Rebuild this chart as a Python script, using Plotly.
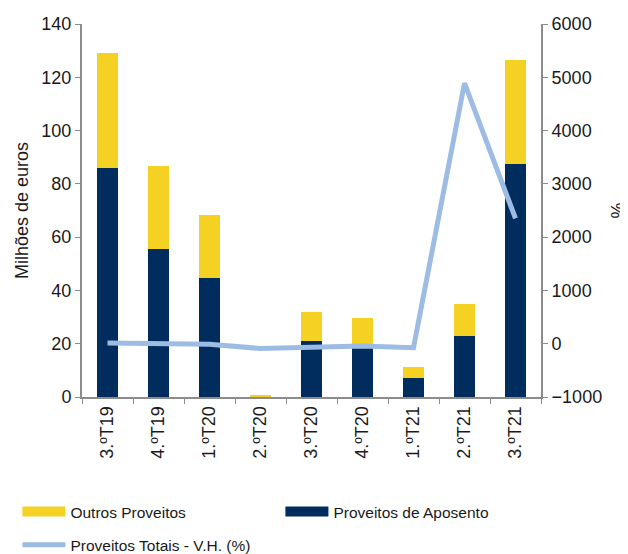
import plotly.graph_objects as go

trimestres = ["3.ºT19", "4.ºT19", "1.ºT20", "2.ºT20", "3.ºT20", "4.ºT20", "1.ºT21", "2.ºT21", "3.ºT21"]
proveitos_aposento = [86.0, 55.6, 44.5, 0.0, 21.0, 19.0, 7.0, 22.8, 87.3]
outros_proveitos = [43.2, 31.0, 23.7, 0.6, 10.8, 10.6, 4.1, 12.1, 39.3]
vh_total = [15, 12, -8, -90, -60, -45, -75, 4890, 2350]

navy = "#002D5E"
amarelo = "#F4D123"
azul = "#9CBCE3"
cinza = "#8C8C8C"

fig = go.Figure()
fig.add_trace(go.Bar(x=trimestres, y=proveitos_aposento, name="Proveitos de Aposento",
                     marker_color=navy, marker_line_width=0, showlegend=False))
fig.add_trace(go.Bar(x=trimestres, y=outros_proveitos, name="Outros Proveitos",
                     marker_color=amarelo, marker_line_width=0, showlegend=False))
fig.add_trace(go.Scatter(x=trimestres, y=vh_total, name="Proveitos Totais - V.H. (%)",
                         yaxis="y2", mode="lines", line=dict(color=azul, width=5),
                         legend="legend2"))

# entradas de legenda em forma de faixa larga, como no original
fig.add_trace(go.Scatter(x=[None], y=[None], mode="lines", name="Outros Proveitos",
                         line=dict(color=amarelo, width=10), legendrank=1))
fig.add_trace(go.Scatter(x=[None], y=[None], mode="lines", name="Proveitos de Aposento",
                         line=dict(color=navy, width=10), legendrank=2))

eixo = dict(showline=True, linecolor=cinza, linewidth=2, ticks="outside",
            tickcolor=cinza, ticklen=5, showgrid=False, zeroline=False,
            automargin=False, tickfont=dict(size=18))

fig.update_layout(
    width=620, height=546,
    barmode="stack", bargap=0.6,
    plot_bgcolor="white", paper_bgcolor="white",
    margin=dict(l=74, r=87, t=16, b=157, autoexpand=False),
    font=dict(family="Liberation Sans, Arial", size=15, color="#1a1a1a"),
    xaxis=dict(eixo, tickson="boundaries", tickangle=-90),
    yaxis=dict(eixo, range=[0, 140], dtick=20,
               title=dict(text="Milhões de euros", standoff=8, font=dict(size=18))),
    yaxis2=dict(eixo, range=[-1000, 6000], dtick=1000, overlaying="y", side="right",
                title=dict(text="%", standoff=15, font=dict(size=18))),
    legend=dict(orientation="h", x=-0.1407, y=-0.308, xanchor="left", yanchor="middle",
                entrywidth=205, entrywidthmode="pixels", traceorder="normal",
                itemwidth=43, font=dict(size=15.5)),
    legend2=dict(orientation="h", x=-0.1407, y=-0.397, xanchor="left", yanchor="middle",
                 itemwidth=43, font=dict(size=15.5)),
)

fig.write_html("out.html")
